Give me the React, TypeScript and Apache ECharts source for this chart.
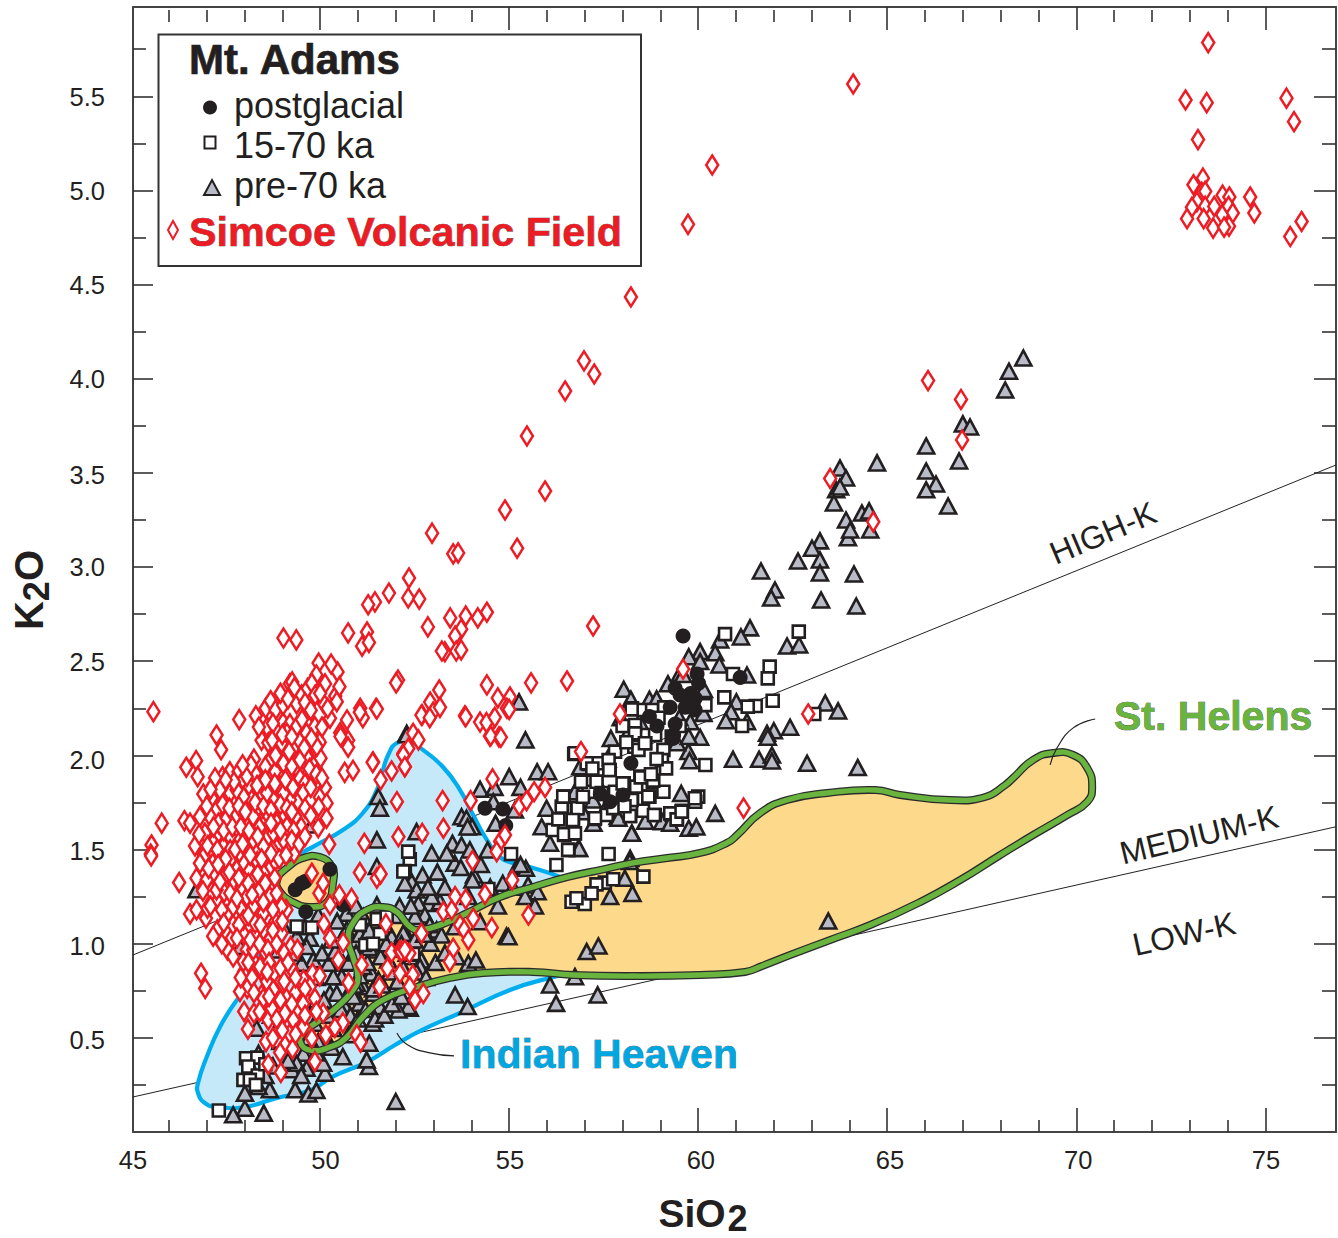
import React, { useEffect, useRef } from "react";
import * as echarts from "echarts";

const FONT = '"Liberation Sans", Arial, sans-serif';
const INK = "#231f20";
const RED = "#ed1c24";
const GREEN = "#69b43f";
const BLUE = "#00aeef";

const xMin = 45.05;
const xMax = 76.87;
const yMin = 0;
const yMax = 5.974;

const xMajorTicks = [50, 55, 60, 65, 70, 75];
const xMinorTicks = [46, 47, 48, 49, 51, 52, 53, 54, 56, 57, 58, 59, 61, 62, 63, 64, 66, 67, 68, 69, 71, 72, 73, 74];
const yMajorTicks = [0.5, 1, 1.5, 2, 2.5, 3, 3.5, 4, 4.5, 5, 5.5];
const yMinorTicks = [0.25, 0.75, 1.25, 1.75, 2.25, 2.75, 3.25, 3.75, 4.25, 4.75, 5.25, 5.75];
const xLabelSpots = [45.05, 50.14, 55.02, 60.07, 65.07, 70.05, 75.02];
const yLabelSpots = [0.489, 0.988, 1.492, 1.976, 2.496, 3.0, 3.489, 3.999, 4.498, 4.997, 5.497];

const highKLine = [[45.05, 0.94], [76.87, 3.542]];
const mediumKLine = [[45.05, 0.186], [76.87, 1.621]];
const indianLeader = [[52.03, 0.526], [52.32, 0.462], [52.9, 0.42], [53.54, 0.404]];
const helensLeader = [[69.31, 1.949], [69.49, 2.039], [69.92, 2.146], [70.5, 2.193]];

const indianHeavenField = [
  [46.77, 0.26], [46.77, 0.207], [46.95, 0.154], [47.27, 0.133], [48.01, 0.133], [48.86, 0.181], [49.76, 0.223], [50.31, 0.292],
  [51.24, 0.372], [51.98, 0.462], [52.7, 0.542], [53.7, 0.632], [55.02, 0.754], [56.08, 0.818], [57.4, 0.876], [58.28, 0.898],
  [58.67, 0.924], [58.78, 0.967], [58.67, 1.036], [58.28, 1.115], [57.59, 1.216], [56.88, 1.301], [56.35, 1.354], [55.63, 1.402],
  [55.1, 1.429], [54.76, 1.46], [54.41, 1.551], [54.02, 1.694], [53.7, 1.816], [53.25, 1.938], [52.72, 2.029], [52.38, 2.071],
  [52.03, 2.066], [51.8, 2.002], [51.64, 1.907], [51.5, 1.816], [51.13, 1.694], [50.6, 1.604], [49.81, 1.514], [49.39, 1.46],
  [48.67, 1.232], [48.41, 0.967], [48.22, 0.797], [47.8, 0.701], [47.35, 0.558], [47.0, 0.398],
];

const stHelensField = [
  [52.38, 1.089], [52.64, 1.073], [53.25, 1.105], [53.89, 1.163], [54.76, 1.248], [55.63, 1.301], [56.53, 1.354], [57.4, 1.391],
  [58.28, 1.429], [59.18, 1.455], [60.05, 1.482], [60.76, 1.535], [61.03, 1.577], [61.64, 1.694], [62.35, 1.763], [63.41, 1.8],
  [64.68, 1.816], [65.34, 1.79], [66.66, 1.763], [67.59, 1.779], [68.12, 1.843], [68.33, 1.88], [68.86, 1.976], [69.39, 2.013],
  [69.92, 2.002], [70.29, 1.933], [70.42, 1.832], [70.29, 1.753], [69.76, 1.683], [68.86, 1.577], [67.99, 1.471], [66.93, 1.338],
  [65.87, 1.221], [64.55, 1.099], [63.49, 1.02], [62.43, 0.94], [61.69, 0.882], [61.24, 0.85], [60.05, 0.834], [58.28, 0.828],
  [56.69, 0.834], [55.63, 0.85], [54.31, 0.844], [53.44, 0.818], [52.56, 0.77], [51.66, 0.701], [51.13, 0.611], [50.71, 0.505],
  [50.26, 0.451], [49.73, 0.435], [49.47, 0.478], [49.55, 0.526], [50.0, 0.595], [50.45, 0.664], [50.87, 0.754], [51.0, 0.823],
  [50.87, 0.929], [50.74, 1.02], [50.87, 1.11], [51.24, 1.179], [51.66, 1.195], [52.03, 1.168],
];

const stHelensLoop = [
  [48.86, 1.338], [49.12, 1.402], [49.55, 1.455], [50.0, 1.46], [50.31, 1.407], [50.34, 1.322], [50.18, 1.221], [49.73, 1.195],
  [49.28, 1.221], [48.94, 1.275],
];

const postglacial = [
  [59.6, 2.634], [61.11, 2.413], [59.97, 2.432], [59.39, 2.356], [59.8, 2.329], [59.92, 2.303], [59.26, 2.255], [59.66, 2.255],
  [59.92, 2.241], [58.71, 2.206], [58.91, 2.156], [59.39, 2.167], [59.35, 2.108], [59.33, 2.09], [58.22, 1.958], [57.41, 1.795],
  [57.67, 1.754], [58.01, 1.79], [60.01, 2.383], [59.83, 2.276], [59.52, 2.321], [54.36, 1.719], [54.83, 1.715], [54.91, 1.627],
  [50.26, 1.395], [49.6, 1.33], [49.51, 1.321], [49.34, 1.286], [49.62, 1.17], [50.61, 1.206],
];

const ka15to70 = [
  [60.71, 2.644], [62.66, 2.657], [61.89, 2.471], [61.84, 2.409], [60.92, 2.432], [60.69, 2.308], [61.97, 2.29], [61.52, 2.262],
  [61.31, 2.259], [60.19, 2.267], [61.16, 2.156], [63.07, 2.22], [60.19, 1.949], [58.25, 2.25], [58.55, 2.241], [58.78, 2.241],
  [59.1, 2.255], [58.0, 2.156], [58.33, 2.161], [58.86, 2.108], [59.51, 2.156], [58.6, 2.064], [58.31, 2.046], [58.42, 2.029],
  [59.08, 2.029], [57.8, 2.02], [56.72, 2.007], [57.1, 1.954], [57.36, 1.958], [57.63, 1.975], [57.66, 1.922], [59.04, 1.975],
  [59.15, 1.931], [58.47, 1.887], [58.8, 1.86], [58.03, 1.852], [57.3, 1.86], [57.04, 1.86], [57.1, 1.807], [57.8, 1.807],
  [58.36, 1.834], [59.08, 1.807], [58.71, 1.781], [58.25, 1.763], [56.79, 1.719], [56.44, 1.781], [56.39, 1.728], [60.0, 1.781],
  [59.92, 1.754], [59.57, 1.706], [59.26, 1.692], [58.85, 1.683], [59.44, 1.66], [58.54, 1.706], [58.2, 1.678], [57.58, 1.683],
  [57.26, 1.662], [56.69, 1.657], [56.72, 1.586], [56.46, 1.577], [56.57, 1.498], [57.63, 1.476], [52.37, 1.448], [52.33, 1.489],
  [52.24, 1.386], [55.05, 1.476], [54.45, 1.29], [56.43, 1.781], [56.81, 1.719], [56.68, 1.657], [57.27, 1.666], [58.19, 1.678],
  [58.83, 1.683], [59.43, 1.66], [59.56, 1.701], [59.91, 1.772], [58.48, 1.883], [58.81, 1.866], [58.0, 1.851], [57.31, 1.86],
  [57.05, 1.958], [57.65, 1.922], [58.33, 2.117], [58.59, 2.064], [58.24, 2.244], [58.68, 1.781], [58.24, 1.763], [56.74, 2.011],
  [56.15, 1.604], [56.45, 1.581], [56.74, 1.586], [56.56, 1.498], [56.25, 1.418], [58.55, 1.356], [57.53, 1.324], [57.31, 1.315],
  [57.75, 1.342], [57.0, 1.211], [57.18, 1.267], [56.65, 1.223], [56.78, 1.241], [52.46, 0.945], [47.32, 0.114], [48.04, 0.392],
  [48.34, 0.395], [48.1, 0.348], [47.97, 0.277], [48.35, 0.3], [48.14, 0.277], [49.38, 1.091], [49.78, 1.086], [48.89, 0.48],
  [52.2, 1.383], [51.19, 0.993], [51.58, 1.052], [51.5, 1.13], [51.76, 1.144],
  [57.45, 1.8], [57.75, 1.72], [58.05, 1.73], [58.75, 1.9], [57.2, 1.93], [56.95, 1.78], [58.1, 2.07], [58.9, 1.98], [59.3, 2.1],
  [58.95, 2.2], [56.3, 1.66], [56.9, 1.86], [51.4, 1.0], [51.05, 1.1], [48.3, 0.25], [48.55, 0.36],
];

const pre70ka = [
  [68.6, 4.11], [68.22, 4.04], [68.12, 3.94], [67.0, 3.76], [67.19, 3.744], [66.03, 3.643], [66.9, 3.563], [66.03, 3.51],
  [66.29, 3.441], [66.03, 3.41], [66.61, 3.324], [64.73, 3.553], [63.75, 3.526], [63.91, 3.473], [63.65, 3.41], [63.75, 3.425],
  [63.59, 3.34], [64.33, 3.287], [64.52, 3.298], [63.91, 3.25], [63.96, 3.155], [64.02, 3.197], [64.55, 3.197], [63.22, 3.139],
  [63.01, 3.1], [62.64, 3.032], [63.22, 3.038], [63.22, 2.969], [61.66, 2.979], [64.12, 2.963], [62.03, 2.878], [61.93, 2.836],
  [63.25, 2.825], [64.18, 2.793], [62.35, 2.581], [62.67, 2.586], [61.37, 2.677], [61.13, 2.629], [63.36, 2.278], [63.7, 2.236],
  [60.58, 2.613], [60.45, 2.545], [60.56, 2.48], [60.05, 2.551], [59.75, 2.524], [60.05, 2.498], [61.29, 2.427], [58.03, 2.351],
  [58.22, 2.298], [58.71, 2.298], [59.52, 2.436], [60.14, 2.223], [59.79, 2.179], [61.01, 2.285], [60.87, 2.232], [60.73, 2.184],
  [61.29, 2.179], [62.43, 2.149], [62.0, 2.131], [61.82, 2.117], [61.84, 2.096], [60.05, 2.096], [59.74, 2.02], [59.77, 1.972],
  [59.44, 2.067], [58.16, 2.126], [57.69, 2.09], [60.92, 1.979], [61.61, 1.979], [61.95, 2.002], [61.95, 1.97], [62.88, 1.958],
  [64.22, 1.935], [56.88, 1.94], [56.75, 1.807], [57.23, 1.639], [57.87, 1.675], [59.55, 1.798], [60.45, 1.692], [59.75, 1.613],
  [58.25, 1.586], [59.04, 1.648], [59.26, 1.639], [56.83, 1.506], [58.2, 1.453], [52.29, 2.117], [55.43, 2.082], [55.26, 2.284],
  [54.23, 1.82], [54.61, 1.83], [55.0, 1.887], [55.3, 1.83], [55.74, 1.913], [56.03, 1.913], [54.58, 1.754], [55.15, 1.71],
  [55.99, 1.719], [56.74, 1.807], [57.22, 1.763], [53.74, 1.674], [53.87, 1.666], [54.02, 1.621], [55.86, 1.621], [54.64, 1.639],
  [52.55, 1.595], [53.5, 1.533], [53.74, 1.524], [53.96, 1.498], [52.95, 1.48], [54.43, 1.498], [53.56, 1.427], [53.72, 1.404],
  [52.71, 1.365], [54.07, 1.365], [54.03, 1.338], [52.42, 1.329], [52.55, 1.285], [55.21, 1.409], [55.44, 1.4], [54.83, 1.321],
  [55.5, 1.312], [55.75, 1.276], [55.42, 1.25], [55.68, 1.2], [54.23, 1.117], [53.92, 1.25], [52.86, 1.214], [53.17, 1.223],
  [52.95, 1.25], [52.6, 1.214], [52.77, 1.152], [52.51, 1.144], [52.24, 1.064], [53.08, 1.073], [53.21, 1.046], [53.56, 1.09],
  [52.92, 1.002], [52.68, 0.913], [52.37, 0.931], [52.64, 0.878], [54.93, 1.041], [54.98, 1.037], [57.05, 0.958], [57.36, 0.988],
  [53.92, 0.896], [54.12, 0.913], [53.57, 0.728], [53.9, 0.666], [56.08, 0.781], [56.74, 0.825], [56.24, 0.683], [57.34, 0.728],
  [52.37, 0.657], [57.67, 1.25], [58.26, 1.267], [58.06, 1.347], [58.19, 1.436], [58.24, 1.586], [57.89, 1.666], [56.85, 1.506],
  [56.08, 1.533], [53.61, 0.931], [63.44, 1.12], [52.0, 0.162], [48.51, 0.1], [48.01, 0.126], [47.7, 0.091], [48.01, 0.206],
  [49.34, 0.224], [49.69, 0.202], [48.67, 0.224], [48.37, 0.241], [49.25, 0.33], [49.64, 0.339], [50.13, 0.312], [50.08, 0.365],
  [51.29, 0.348], [51.23, 0.383], [51.3, 0.471], [48.37, 0.418], [51.39, 0.578], [50.75, 0.516], [48.32, 0.551], [48.89, 0.56],
  [49.73, 0.613], [49.86, 0.578], [49.56, 0.418], [49.38, 0.365], [50.26, 0.737], [51.58, 0.666], [51.05, 0.684], [51.41, 0.737],
  [51.14, 0.772], [50.66, 0.666], [50.79, 0.755], [50.44, 0.737], [50.57, 0.825], [50.35, 0.825], [50.22, 0.896], [50.61, 0.896],
  [49.82, 0.914], [49.51, 0.896], [49.91, 0.702], [50.97, 1.02], [50.7, 1.162], [50.7, 1.073], [49.73, 1.029], [49.64, 0.985],
  [49.38, 1.038], [48.89, 0.967], [47.88, 0.985], [46.73, 1.286], [51.5, 1.41], [51.5, 1.206], [51.14, 1.144], [51.89, 1.038],
  [51.5, 0.967], [51.36, 0.843], [51.8, 0.914], [52.2, 1.056], [52.29, 0.949], [52.24, 1.321], [52.33, 0.666], [52.07, 0.648],
  [51.14, 0.879], [51.54, 0.808], [51.94, 0.755], [50.88, 0.719], [50.97, 0.79], [49.78, 1.63], [51.54, 1.781], [51.58, 1.719],
  [51.5, 1.551], [52.29, 2.109],
  [49.9, 0.82], [50.1, 0.7], [50.2, 0.62], [50.35, 0.55], [50.55, 0.65], [50.8, 0.62], [51.0, 0.6], [51.2, 0.65], [51.45, 0.6],
  [51.7, 0.62], [51.9, 0.68], [52.15, 0.72], [50.05, 0.95], [50.4, 0.96], [50.75, 0.9], [50.95, 0.95], [51.25, 0.9], [51.4, 0.76],
  [51.65, 0.78], [51.85, 0.85], [52.05, 0.8], [52.2, 0.87], [50.1, 0.5], [49.95, 0.48], [49.7, 0.5], [49.5, 0.3], [49.9, 0.42],
  [50.3, 0.45], [50.6, 0.4], [50.9, 0.78], [51.05, 0.83], [51.3, 0.98], [51.6, 0.93], [51.75, 1.0], [52.0, 0.97], [52.15, 1.0],
  [51.05, 1.05], [51.3, 1.07], [51.7, 1.1], [51.95, 1.15], [52.1, 1.2], [52.4, 1.2], [52.5, 1.02], [52.75, 1.05], [52.55, 0.85],
  [52.8, 0.82], [53.05, 0.9], [53.3, 0.95], [52.9, 1.1], [53.3, 1.3], [53.1, 1.38], [52.85, 1.3], [53.35, 1.48], [53.9, 1.62],
  [54.25, 1.42], [54.5, 1.3], [54.7, 1.2], [55.1, 1.3], [55.3, 1.42], [50.3, 1.02], [50.45, 1.12], [50.95, 1.2], [49.3, 0.72],
  [48.95, 0.48], [49.15, 0.38], [48.75, 0.35], [48.55, 0.3], [48.2, 0.33], [49.9, 0.22], [48.7, 0.62], [49.3, 0.95], [49.0, 1.1],
  [49.6, 1.09], [49.95, 1.15],
  [58.9, 2.3], [59.2, 2.38], [59.5, 2.2], [59.75, 2.1], [58.45, 2.18], [57.95, 2.2], [57.6, 1.98], [57.35, 1.85], [56.95, 1.7],
  [57.5, 1.7], [58.6, 1.65], [59.95, 1.62], [59.6, 2.43], [60.15, 2.35],
];

const simcoe = [
  [73.49, 5.785], [72.89, 5.48], [73.45, 5.466], [75.56, 5.49], [75.76, 5.365], [73.22, 5.27], [73.35, 5.065], [73.1, 5.03],
  [73.32, 4.99], [73.41, 4.995], [73.19, 4.94], [73.06, 4.91], [72.93, 4.85], [73.41, 4.915], [73.37, 4.85], [73.65, 4.915],
  [73.62, 4.8], [73.87, 4.975], [74.05, 4.965], [74.03, 4.915], [74.14, 4.88], [73.86, 4.87], [74.04, 4.81], [73.91, 4.805],
  [74.6, 4.965], [74.71, 4.88], [75.96, 4.835], [75.66, 4.755],
  [64.1, 5.565], [60.37, 5.135], [59.73, 4.82], [58.22, 4.434], [56.98, 4.095], [57.25, 4.025], [56.48, 3.935], [55.47, 3.696],
  [55.95, 3.404], [54.89, 3.303], [55.21, 3.1], [52.96, 3.18], [53.52, 3.07], [53.65, 3.075], [66.08, 3.99], [66.95, 3.89],
  [66.98, 3.675], [63.49, 3.47], [64.63, 3.24], [57.22, 2.687], [59.6, 2.458], [57.93, 2.22], [56.53, 2.395], [55.58, 2.385],
  [62.91, 2.22], [61.2, 1.72], [52.35, 2.942], [51.82, 2.862], [52.33, 2.836], [52.62, 2.83], [51.45, 2.815], [51.27, 2.8],
  [49.03, 2.623], [49.37, 2.613], [50.74, 2.65], [51.24, 2.655], [51.11, 2.58], [51.29, 2.6], [50.46, 2.443], [49.96, 2.49],
  [49.9, 2.427], [52.85, 2.682], [53.44, 2.73], [53.85, 2.74], [54.17, 2.73], [54.41, 2.76], [53.73, 2.67], [53.57, 2.634],
  [53.3, 2.55], [53.22, 2.554], [53.6, 2.554], [53.73, 2.56], [54.41, 2.374], [54.7, 2.305], [55.02, 2.31], [54.94, 2.25],
  [53.15, 2.347], [52.91, 2.283], [52.7, 2.215], [52.99, 2.23], [53.83, 2.21], [54.23, 2.177], [54.57, 2.188], [54.49, 2.103],
  [54.73, 2.098], [52.06, 2.4], [52.01, 2.385], [51.48, 2.25], [51.06, 2.25], [50.71, 2.188], [51.13, 2.2], [50.53, 2.12],
  [50.74, 2.08], [50.65, 1.91], [50.87, 1.92], [51.4, 1.965], [45.59, 2.232], [47.26, 2.108], [47.38, 2.03], [47.86, 2.19],
  [48.3, 2.21], [46.72, 1.972], [46.46, 1.937], [46.76, 1.887], [46.91, 1.795], [45.81, 1.64], [46.41, 1.653], [46.56, 1.64],
  [45.54, 1.524], [45.52, 1.476], [46.69, 1.519], [47.42, 1.887], [47.61, 1.913], [47.84, 1.913], [47.97, 1.87], [48.25, 1.98],
  [48.56, 2.25], [48.69, 2.29], [48.82, 2.24], [48.6, 2.15], [48.45, 2.08], [48.63, 2.067], [48.89, 2.126], [49.02, 2.174],
  [49.02, 2.267], [49.2, 2.38], [49.26, 2.39], [49.2, 2.167], [49.38, 2.273], [49.51, 2.32], [49.67, 2.356], [49.78, 2.383],
  [49.66, 2.17], [49.87, 2.32], [50.09, 2.277], [50.13, 2.38], [50.29, 2.485], [50.4, 2.315], [50.51, 2.365], [50.44, 2.285],
  [50.26, 2.197], [51.05, 2.229], [51.5, 2.246], [50.54, 2.1], [50.74, 2.043], [49.99, 2.07], [50.01, 1.985], [49.68, 1.997],
  [49.42, 1.922], [49.47, 1.878], [51.39, 1.963], [51.6, 1.87], [51.89, 1.917], [52.24, 1.94], [52.2, 2.01], [50.13, 1.829],
  [49.99, 1.777], [50.17, 1.746], [49.96, 1.728], [50.17, 1.666], [49.95, 1.616], [52.03, 1.754], [52.07, 1.568], [51.17, 1.533],
  [50.24, 1.528], [49.42, 1.754], [49.33, 1.678], [49.15, 1.581], [49.31, 1.48],
  [47.13, 1.773], [47.26, 1.675], [47.53, 1.799], [47.75, 1.675], [48.1, 1.719], [48.45, 1.781], [48.5, 1.861], [48.67, 1.976],
  [48.81, 1.914], [48.98, 2.065], [49.29, 2.038], [49.47, 2.073], [49.64, 1.994], [49.91, 2.047], [49.16, 1.888], [48.94, 1.834],
  [48.67, 1.817], [48.14, 1.834], [47.62, 1.799], [47.26, 1.711], [47.09, 1.675], [46.95, 1.587], [47.31, 1.587], [47.62, 1.569],
  [48.01, 1.578], [48.41, 1.622], [48.59, 1.657], [48.81, 1.711], [49.03, 1.693], [49.2, 1.764], [49.03, 1.799], [49.34, 1.675],
  [48.06, 1.498], [48.32, 1.489], [48.63, 1.569], [48.94, 1.534], [48.76, 1.587], [47.88, 1.48], [47.44, 1.516], [47.13, 1.48],
  [46.91, 1.48], [46.82, 1.675], [48.19, 1.764], [48.28, 1.905], [48.06, 1.888], [48.63, 1.958], [48.85, 1.994], [49.03, 1.958],
  [49.25, 1.941], [49.47, 1.976], [49.12, 2.118], [49.38, 2.153], [49.64, 2.118], [49.86, 2.153], [48.76, 1.764], [48.59, 1.799],
  [48.37, 1.728], [47.97, 1.781], [47.79, 1.817], [47.35, 1.817], [47.31, 1.64], [47.53, 1.666], [48.01, 1.64], [48.23, 1.675],
  [48.59, 1.693], [48.85, 1.64], [49.12, 1.622], [49.03, 1.551], [47.88, 1.551], [48.23, 1.551], [48.5, 1.516], [47.62, 1.498],
  [47.17, 1.534],
  [45.53, 1.466], [46.27, 1.325], [46.56, 1.158], [46.73, 1.18], [46.98, 1.135], [47.02, 1.188], [46.73, 1.348], [46.93, 1.466],
  [46.82, 1.427], [47.16, 1.427], [47.22, 1.36], [47.13, 1.277], [47.28, 1.224], [47.46, 1.272], [47.53, 1.153], [47.28, 1.073],
  [47.17, 1.04], [47.66, 1.029], [47.55, 0.967], [46.85, 0.843], [46.96, 0.763], [47.99, 1.047], [48.29, 1.047], [48.5, 1.073],
  [48.69, 1.029], [48.94, 1.056], [49.22, 0.985], [49.09, 1.179], [47.63, 1.448], [47.99, 1.424], [48.34, 1.436], [48.66, 1.392],
  [48.81, 1.436], [48.14, 1.388], [47.7, 1.325], [48.06, 1.25], [48.41, 1.286], [48.67, 1.25], [47.91, 1.183], [48.3, 1.165],
  [48.6, 1.148], [48.81, 1.117], [49.11, 1.18], [48.98, 1.056], [48.54, 0.958], [48.25, 0.905], [47.99, 0.852], [48.43, 0.857],
  [48.78, 0.843], [49.26, 0.864], [48.07, 0.763], [47.88, 0.746], [48.45, 0.728], [48.85, 0.737], [49.11, 0.71], [49.38, 0.737],
  [49.56, 0.808], [49.8, 0.843], [49.99, 0.829], [49.86, 0.71], [49.73, 0.772], [47.99, 0.64], [48.25, 0.631], [48.63, 0.595],
  [48.72, 0.657], [49.07, 0.631], [49.42, 0.64], [50.08, 0.631], [49.29, 0.595], [48.09, 0.546], [49.19, 0.519], [48.57, 0.48],
  [49.07, 0.462], [49.27, 0.441], [48.94, 0.422], [48.63, 0.36], [48.96, 0.316], [49.86, 0.374], [49.56, 0.56], [50.26, 1.029],
  [50.48, 0.914], [50.1, 1.105], [50.61, 1.006], [50.51, 1.259], [50.83, 1.241], [50.26, 1.206], [51.05, 1.378], [51.5, 1.348],
  [51.6, 1.37], [51.1, 0.887], [50.75, 0.793], [51.57, 0.772], [51.78, 0.87], [51.74, 1.105], [51.89, 0.953], [52.11, 0.963],
  [52.11, 0.843], [52.36, 0.949], [50.97, 0.516], [51.07, 0.477], [50.6, 0.581], [50.39, 0.555], [50.15, 0.516], [49.78, 0.498],
  [49.78, 1.374], [49.98, 1.268], [50.08, 1.321],
  [47.44, 1.445], [47.79, 1.392], [47.53, 1.374], [48.23, 1.339], [48.5, 1.374], [47.62, 1.268], [47.92, 1.303], [47.26, 1.286],
  [47.0, 1.339], [48.23, 1.197], [47.7, 1.197], [47.97, 1.126], [47.7, 1.1], [48.28, 1.109], [48.5, 1.162], [48.85, 1.268],
  [48.98, 1.197], [48.06, 0.967], [48.23, 0.967], [47.97, 0.905], [48.41, 0.878], [48.59, 0.799], [48.5, 0.71], [48.76, 0.755],
  [49.34, 0.737],
  [52.68, 2.214], [52.9, 2.2], [53.17, 2.255], [53.85, 2.205], [54.4, 2.174], [54.62, 2.202], [54.51, 2.103], [54.78, 2.096],
  [55.0, 2.244], [52.46, 2.117], [52.6, 2.082], [52.33, 2.037], [52.2, 2.002], [52.24, 1.94], [53.24, 1.76], [53.98, 1.76],
  [53.26, 1.613], [52.7, 1.586], [54.56, 1.875], [55.27, 1.731], [55.46, 1.76], [55.66, 1.807], [55.95, 1.83], [56.9, 2.02],
  [54.76, 1.542], [54.89, 1.577], [54.67, 1.489], [54.03, 1.441], [55.08, 1.338], [54.36, 1.262], [53.85, 1.237], [53.57, 1.25],
  [53.26, 1.17], [53.48, 1.179], [54.05, 1.135], [54.54, 1.085], [55.51, 1.152], [53.7, 1.1], [53.81, 1.073], [53.92, 1.02],
  [53.52, 0.975], [53.43, 0.905], [52.68, 1.055], [52.45, 0.834], [52.37, 0.772], [52.51, 0.701], [52.73, 0.736], [52.15, 0.958],
  [52.24, 0.967],
  [48.95, 2.33], [49.15, 2.3], [49.32, 2.36], [49.6, 2.28], [49.75, 2.24], [50.0, 2.33], [50.2, 2.25], [48.75, 2.17],
  [48.38, 2.15], [48.73, 2.08], [49.0, 2.11], [49.25, 2.1], [49.52, 2.19], [49.77, 2.09], [50.05, 2.15], [49.58, 2.04],
  [49.18, 2.02], [48.82, 2.0], [48.55, 1.94], [49.72, 1.93], [49.9, 1.9], [50.05, 1.88], [49.6, 1.85], [49.28, 1.83],
  [49.08, 1.87], [48.8, 1.85], [48.55, 1.87], [48.33, 1.84], [48.17, 1.95], [47.95, 1.95], [47.72, 1.86], [47.5, 1.87],
  [47.22, 1.88], [47.1, 1.82], [47.42, 1.74], [47.6, 1.72], [47.85, 1.73], [48.02, 1.7], [48.28, 1.75], [48.5, 1.73],
  [48.7, 1.71], [48.95, 1.74], [49.12, 1.72], [49.25, 1.7], [49.55, 1.8], [49.75, 1.83], [49.6, 1.72], [49.75, 1.68],
  [49.5, 1.62], [49.3, 1.6], [47.0, 1.73], [47.18, 1.62], [47.45, 1.6], [47.68, 1.62], [47.9, 1.62], [48.12, 1.6],
  [48.35, 1.57], [48.7, 1.64], [48.95, 1.6], [49.25, 1.55], [49.45, 1.53], [49.6, 1.57], [46.8, 1.58], [47.02, 1.52],
  [47.28, 1.5], [47.5, 1.45], [47.75, 1.5], [47.95, 1.53], [48.15, 1.47], [48.45, 1.45], [48.7, 1.48], [48.92, 1.45],
  [49.1, 1.47], [47.05, 1.4], [47.3, 1.42], [47.6, 1.38], [47.85, 1.35], [48.1, 1.32], [48.35, 1.37], [48.55, 1.32],
  [48.8, 1.35], [46.9, 1.28], [47.35, 1.33], [47.1, 1.2], [47.4, 1.18], [47.8, 1.24], [48.2, 1.26], [48.5, 1.22],
  [48.75, 1.18], [49.0, 1.12], [47.45, 1.11], [47.85, 1.1], [48.1, 1.15], [48.42, 1.1], [48.75, 1.07], [47.4, 1.0],
  [47.8, 1.03], [48.15, 1.02], [48.4, 1.0], [48.62, 0.97], [48.85, 1.0], [49.05, 0.95], [49.4, 0.97], [47.7, 0.93],
  [48.1, 0.9], [48.65, 0.9], [48.95, 0.87], [49.15, 0.9], [47.9, 0.82], [48.2, 0.82], [48.6, 0.85], [49.05, 0.8],
  [49.35, 0.82], [49.6, 0.76], [48.25, 0.74], [48.65, 0.72], [48.95, 0.7], [49.25, 0.68], [49.55, 0.68], [48.4, 0.64],
  [48.85, 0.6], [49.6, 0.62], [49.9, 0.64], [48.75, 0.5], [49.0, 0.54], [49.35, 0.52],
];

const xTickLabels = ["45", "50", "55", "60", "65", "70", "75"];
const yTickLabels = ["0.5", "1.0", "1.5", "2.0", "2.5", "3.0", "3.5", "4.0", "4.5", "5.0", "5.5"];

const nearestLabel = (labels: string[], spots: number[], v: number) => {
  let best = 0;
  spots.forEach((s, i) => {
    if (Math.abs(s - v) < Math.abs(spots[best] - v)) best = i;
  });
  return labels[best];
};

const tickAxis = (
  position: string,
  ticks: number[],
  length: number,
  range: [number, number],
  extra: any = {}
) => ({
  type: "value",
  position,
  min: range[0],
  max: range[1],
  splitLine: { show: false },
  axisLine: { show: false, onZero: false },
  axisLabel: { show: false },
  axisTick: {
    show: true,
    inside: true,
    length,
    customValues: ticks,
    lineStyle: { color: "#333", width: 1.6 },
  },
  ...extra,
});

const polygonSeries = (points: number[][], style: any, z: number) => ({
  type: "custom",
  coordinateSystem: "cartesian2d",
  silent: true,
  z,
  clip: false,
  data: [[points[0][0], points[0][1]]],
  renderItem: (_p: any, api: any) => ({
    type: "polygon",
    shape: { points: points.map((p) => api.coord(p)), smooth: 0.5 },
    style,
  }),
});

const strokePair = (points: number[][], z: number) => [
  polygonSeries(points, { fill: "none", stroke: "#2b2b2b", lineWidth: 8, lineJoin: "round" }, z),
  polygonSeries(points, { fill: "none", stroke: GREEN, lineWidth: 5.4, lineJoin: "round" }, z),
];

const text = (
  value: string,
  x: number,
  y: number,
  fontSize: number,
  opts: any = {},
  rotation = 0
) => ({
  type: "text",
  x,
  y,
  rotation,
  z: 100,
  silent: true,
  style: {
    text: value,
    fontFamily: FONT,
    fontSize,
    fill: INK,
    align: "left",
    verticalAlign: "middle",
    ...opts,
  },
});

const deg = (d: number) => (d * Math.PI) / 180;

function buildOption() {
  const xr: [number, number] = [xMin, xMax];
  const yr: [number, number] = [yMin, yMax];
  return {
    animation: false,
    backgroundColor: "#fff",
    grid: { left: 133, top: 7, width: 1203, height: 1125, containLabel: false, outerBoundsMode: "none" },
    xAxis: [
      tickAxis("bottom", xMajorTicks, 24, xr, {
        axisLine: { show: true, onZero: false, lineStyle: { color: "#444", width: 2 } },
        axisLabel: {
          show: true,
          customValues: xLabelSpots,
          margin: 15,
          fontFamily: FONT,
          fontSize: 25.5,
          color: INK,
          formatter: (v: number) => nearestLabel(xTickLabels, xLabelSpots, v),
        },
      }),
      tickAxis("bottom", xMinorTicks, 12, xr),
      tickAxis("top", xMajorTicks, 23, xr, {
        axisLine: { show: true, onZero: false, lineStyle: { color: "#444", width: 2 } },
      }),
      tickAxis("top", xMinorTicks, 12, xr, { offset: -3 }),
    ],
    yAxis: [
      tickAxis("left", yMajorTicks, 20, yr, {
        axisLine: { show: true, onZero: false, lineStyle: { color: "#444", width: 2 } },
        axisLabel: {
          show: true,
          customValues: yLabelSpots,
          margin: 28,
          fontFamily: FONT,
          fontSize: 25.5,
          color: INK,
          formatter: (v: number) => nearestLabel(yTickLabels, yLabelSpots, v),
        },
      }),
      tickAxis("left", yMinorTicks, 13, yr),
      tickAxis("right", yMajorTicks, 22, yr, {
        axisLine: { show: true, onZero: false, lineStyle: { color: "#444", width: 2 } },
      }),
      tickAxis("right", yMinorTicks, 14, yr),
    ],
    graphic: [
      {
        type: "rect",
        z: 90,
        silent: true,
        shape: { x: 158.5, y: 34.5, width: 482.5, height: 231.5 },
        style: { fill: "#fff", stroke: "#333", lineWidth: 2 },
      },
      text("Mt. Adams", 189, 59, 42, { fontWeight: "bold", stroke: INK, lineWidth: 0.7 }),
      { type: "circle", z: 100, silent: true, shape: { cx: 210, cy: 107.5, r: 7 }, style: { fill: INK } },
      text("postglacial", 234, 105, 36),
      {
        type: "rect", z: 100, silent: true,
        shape: { x: 204.5, y: 136.5, width: 11, height: 12 },
        style: { fill: "#fff", stroke: INK, lineWidth: 2 },
      },
      text("15-70 ka", 234, 145, 36),
      {
        type: "polygon", z: 100, silent: true,
        shape: { points: [[212, 180], [220, 195], [204, 195]] },
        style: { fill: "#b9bcc6", stroke: INK, lineWidth: 2 },
      },
      text("pre-70 ka", 234, 185, 36),
      {
        type: "polygon", z: 100, silent: true,
        shape: { points: [[173, 221], [178, 230], [173, 239], [168, 230]] },
        style: { fill: "#fff", stroke: RED, lineWidth: 2 },
      },
      text("Simcoe Volcanic Field", 189, 232, 41.3, { fontWeight: "bold", fill: RED, stroke: "#444", lineWidth: 0.6 }),
      text("St. Helens", 1114, 716, 41, { fontWeight: "bold", fill: GREEN, stroke: "#333", lineWidth: 0.6 }),
      text("Indian Heaven", 460, 1054, 41, { fontWeight: "bold", fill: "#00a6e0", stroke: "#222", lineWidth: 0.4 }),
      text("HIGH-K", 1103, 533, 32, { align: "center" }, deg(23)),
      text("MEDIUM-K", 1199, 835, 32, { align: "center" }, deg(13.5)),
      text("LOW-K", 1184, 934, 32, { align: "center" }, deg(12.5)),
      text("{a|SiO}{b|2}", 703, 1213, 39, {
        align: "center",
        rich: {
          a: { fontFamily: FONT, fontSize: 39, fontWeight: "bold", fill: INK },
          b: { fontFamily: FONT, fontSize: 36, fontWeight: "bold", fill: INK, padding: [10, 0, 0, 2] },
        },
      }),
      text("{a|K}{b|2}{a|O}", 29, 590, 40, {
        align: "center",
        rich: {
          a: { fontFamily: FONT, fontSize: 40, fontWeight: "bold", fill: INK },
          b: { fontFamily: FONT, fontSize: 36, fontWeight: "bold", fill: INK, padding: [14, 0, 0, 0] },
        },
      }, Math.PI / 2),
    ],
    series: [
      {
        type: "line", silent: true, z: 1, showSymbol: false, data: highKLine,
        lineStyle: { color: "#222", width: 1 },
      },
      {
        type: "line", silent: true, z: 1, showSymbol: false, data: mediumKLine,
        lineStyle: { color: "#222", width: 1 },
      },
      polygonSeries(indianHeavenField, { fill: "#c6e9fa", stroke: BLUE, lineWidth: 4.2, lineJoin: "round" }, 2),
      polygonSeries(stHelensField, { fill: "#fdd98c", stroke: "none" }, 3),
      polygonSeries(stHelensLoop, { fill: "#fdd98c", stroke: "none" }, 3),
      {
        type: "scatter", name: "pre-70 ka", silent: true, z: 4, symbol: "triangle", symbolSize: [16, 15], data: pre70ka,
        itemStyle: { color: "#b9bcc6", borderColor: INK, borderWidth: 2.6, opacity: 1 },
      },
      {
        type: "scatter", name: "15-70 ka", silent: true, z: 5, symbol: "rect", symbolSize: [12, 12], data: ka15to70,
        itemStyle: { color: "#fff", borderColor: INK, borderWidth: 2.6, opacity: 1 },
      },
      ...strokePair(stHelensField, 6),
      ...strokePair(stHelensLoop, 6),
      {
        type: "line", silent: true, z: 7, showSymbol: false, smooth: true, data: indianLeader,
        lineStyle: { color: "#222", width: 1.2 },
      },
      {
        type: "line", silent: true, z: 7, showSymbol: false, smooth: true, data: helensLeader,
        lineStyle: { color: "#222", width: 1.2 },
      },
      {
        type: "scatter", name: "postglacial", silent: true, z: 8, symbol: "circle", symbolSize: 15, data: postglacial,
        itemStyle: { color: INK, opacity: 1 },
      },
      {
        type: "scatter", name: "Simcoe Volcanic Field", silent: true, z: 9, symbol: "diamond", symbolSize: [12, 19], data: simcoe,
        itemStyle: { color: "#fff", borderColor: RED, borderWidth: 2.6, opacity: 1 },
      },
    ],
  };
}

export default function App() {
  const ref = useRef<HTMLDivElement>(null);
  useEffect(() => {
    if (!ref.current) return;
    const chart = echarts.init(ref.current, undefined, { renderer: "svg" });
    chart.setOption(buildOption() as any);
    return () => chart.dispose();
  }, []);
  return <div ref={ref} style={{ position: "absolute", left: 0, top: 0, width: 1338, height: 1238 }} />;
}
